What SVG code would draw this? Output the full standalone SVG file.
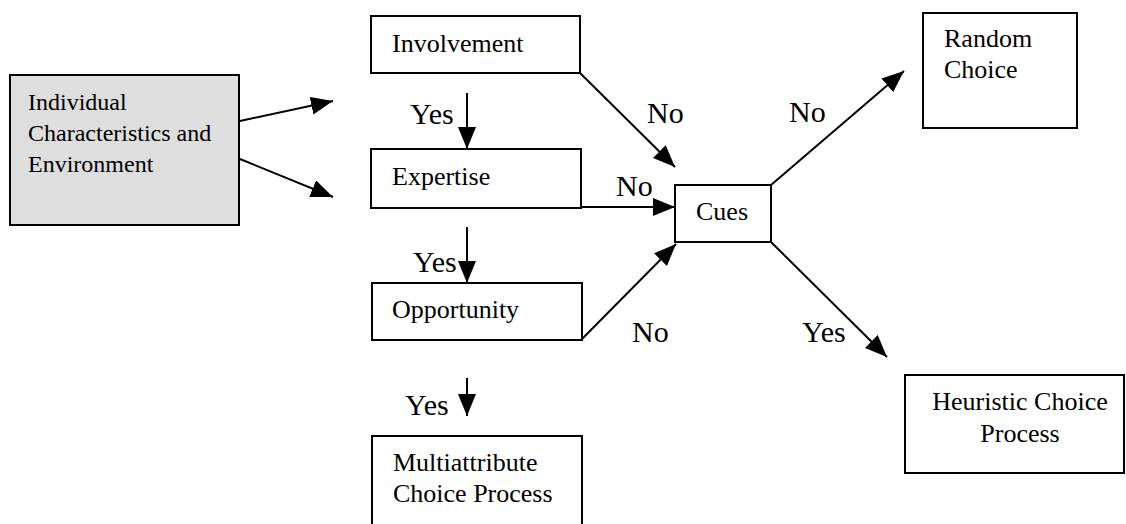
<svg xmlns="http://www.w3.org/2000/svg" width="1126" height="524" viewBox="0 0 1126 524">
<defs>
<marker id="ah" markerUnits="userSpaceOnUse" markerWidth="24" markerHeight="20" refX="22" refY="9" orient="auto">
<path d="M0,0 L22,9 L0,18 z" fill="#000"/>
</marker>
<style>
.box{fill:#fff;stroke:#000;stroke-width:2}
.t{font-family:"Liberation Serif",Tinos,"Times New Roman","DejaVu Serif",serif;font-size:26px;fill:#000}
.s{font-size:24px}
.lbl{font-family:"Liberation Serif",Tinos,"Times New Roman","DejaVu Serif",serif;font-size:30px;fill:#000}
.c{stroke:#000;stroke-width:2;fill:none;marker-end:url(#ah)}
</style>
</defs>
<rect width="1126" height="524" fill="#fff"/>
<g id="individual">
<rect class="box" x="10" y="75" width="229" height="150" style="fill:#dedede"/>
<text class="t s" x="28" y="110">Individual</text>
<text class="t s" x="28" y="141">Characteristics and</text>
<text class="t s" x="28" y="172">Environment</text>
</g>
<g id="involvement">
<rect class="box" x="371" y="16" width="209" height="57"/>
<text class="t" x="392" y="52">Involvement</text>
</g>
<g id="expertise">
<rect class="box" x="371" y="149" width="210" height="59"/>
<text class="t" x="392" y="185">Expertise</text>
</g>
<g id="opportunity">
<rect class="box" x="372" y="283" width="210" height="57"/>
<text class="t" x="392" y="318">Opportunity</text>
</g>
<g id="multiattribute">
<rect class="box" x="372" y="436" width="210" height="100"/>
<text class="t" x="393" y="471">Multiattribute</text>
<text class="t" x="393" y="502">Choice Process</text>
</g>
<g id="cues">
<rect class="box" x="675" y="185" width="96" height="57"/>
<text class="t" x="722" y="220" text-anchor="middle">Cues</text>
</g>
<g id="random">
<rect class="box" x="923" y="13" width="154" height="115"/>
<text class="t" x="944" y="47">Random</text>
<text class="t" x="944" y="78">Choice</text>
</g>
<g id="heuristic">
<rect class="box" x="905" y="375" width="219" height="98"/>
<text class="t" x="1020" y="410" text-anchor="middle">Heuristic Choice</text>
<text class="t" x="1020" y="442" text-anchor="middle">Process</text>
</g>
<g id="connectors">
<line class="c" x1="240" y1="121" x2="333" y2="101"/>
<line class="c" x1="240" y1="159" x2="333" y2="197"/>
<line class="c" x1="467" y1="93" x2="467" y2="149"/>
<line class="c" x1="467" y1="227" x2="467" y2="283"/>
<line class="c" x1="467" y1="378" x2="467" y2="416"/>
<line class="c" x1="580" y1="73" x2="675" y2="167"/>
<line class="c" x1="581" y1="207" x2="675" y2="207"/>
<line class="c" x1="582" y1="339" x2="676" y2="244"/>
<line class="c" x1="771" y1="185" x2="904" y2="71"/>
<line class="c" x1="771" y1="242" x2="887" y2="357"/>
<text class="lbl" x="410" y="124">Yes</text>
<text class="lbl" x="413" y="272">Yes</text>
<text class="lbl" x="405" y="415">Yes</text>
<text class="lbl" x="647" y="123">No</text>
<text class="lbl" x="616" y="196">No</text>
<text class="lbl" x="632" y="342">No</text>
<text class="lbl" x="789" y="122">No</text>
<text class="lbl" x="802" y="342">Yes</text>
</g>
</svg>
